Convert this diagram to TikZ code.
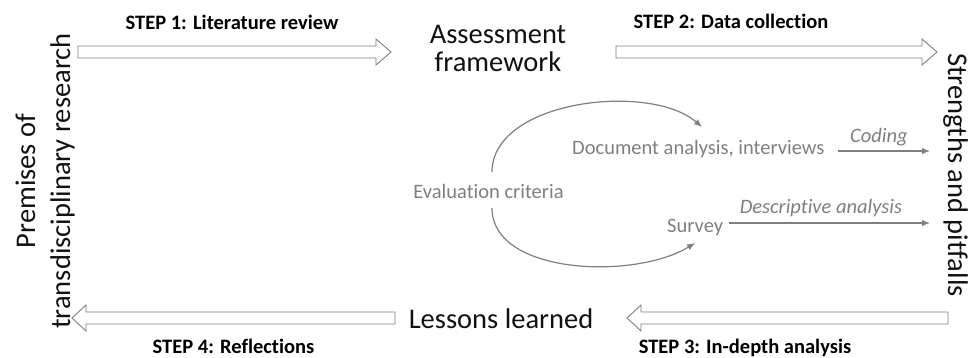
\documentclass[tikz,border=0pt]{standalone}
\usepackage{fontspec}
\setmainfont{Carlito}[Ligatures={NoCommon,NoRequired,NoContextual}]
\usetikzlibrary{arrows.meta}
\definecolor{tgray}{HTML}{7F7F7F}
\definecolor{tblack}{HTML}{111111}
\begin{document}
\begin{tikzpicture}[x=1pt,y=-1pt,
  big/.style={font=\fontsize{28.5}{34}\selectfont, text=tblack, inner sep=0pt},
  steplbl/.style={font=\fontsize{20.5}{24}\selectfont\bfseries, text=black, inner sep=0pt, anchor=base},
  mid/.style={font=\fontsize{20.5}{24}\selectfont, text=tgray, inner sep=0pt},
  midit/.style={font=\fontsize{20.5}{24}\selectfont\itshape, text=tgray, inner sep=0pt},
  hollow/.style={draw=tgray, fill=white, line width=0.9pt, line join=miter},
  flow/.style={draw=tgray, line width=1.2pt, -{Latex[length=8pt,width=6.5pt]}}
]
\useasboundingbox (0,0) rectangle (979,358);

% main labels
\node[big, rotate=90, anchor=base] (prem1) at (35,181) {Premises of};
\node[big, rotate=90, anchor=base] (prem2) at (70,181) {transdisciplinary research};
\node[big, anchor=base] (af1) at (498,44) {Assessment};
\node[big, anchor=base] (af2) at (498,72) {framework};
\node[big, rotate=-90, anchor=base] (sp) at (948,175) {Strengths and pitfalls};
\node[big, anchor=base] (ll) at (501,328) {Lessons learned};

% step labels
\node[steplbl] (s1) at (232,29.5) {STEP 1: Literature review};
\node[steplbl] (s2) at (731,29) {STEP 2: Data collection};
\node[steplbl] (s3) at (745,353.5) {STEP 3: In-depth analysis};
\node[steplbl] (s4) at (233.5,353.5) {STEP 4: Reflections};

% hollow arrows
\draw[hollow] (78,46) -- (376,46) -- (376,39) -- (391,52) -- (376,65) -- (376,58) -- (78,58) -- cycle;
\draw[hollow] (616,46) -- (922,46) -- (922,39) -- (937,52) -- (922,65) -- (922,58) -- (616,58) -- cycle;
\draw[hollow] (948,312) -- (641,312) -- (641,305) -- (627,318) -- (641,331) -- (641,324) -- (948,324) -- cycle;
\draw[hollow] (395,312) -- (86,312) -- (86,305) -- (72,318) -- (86,331) -- (86,324) -- (395,324) -- cycle;

% middle part
\node[mid, anchor=base] (ev) at (488.5,198) {Evaluation criteria};
\node[mid, anchor=base west] (doc) at (572,155) {Document analysis, interviews};
\node[mid, anchor=base west] (sur) at (667,232) {Survey};
\node[midit, anchor=base] (cod) at (879,143) {Coding};
\node[midit, anchor=base] (desc) at (821,213) {Descriptive analysis};
\coordinate (codstart) at (838,151);
\coordinate (codend) at (930,151);
\coordinate (descstart) at (729,223);
\coordinate (descend) at (930,223);
\coordinate (upstart) at (492,172);
\coordinate (uptip) at (702,127);
\coordinate (lostart) at (492,208);
\coordinate (lotip) at (695,243);

\draw[flow] (codstart) -- (codend);
\draw[flow] (descstart) -- (descend);
\draw[flow] (upstart) .. controls (492,100) and (650,82) .. (uptip);
\draw[flow] (lostart) .. controls (492,275) and (635,280) .. (lotip);
\end{tikzpicture}
\end{document}
